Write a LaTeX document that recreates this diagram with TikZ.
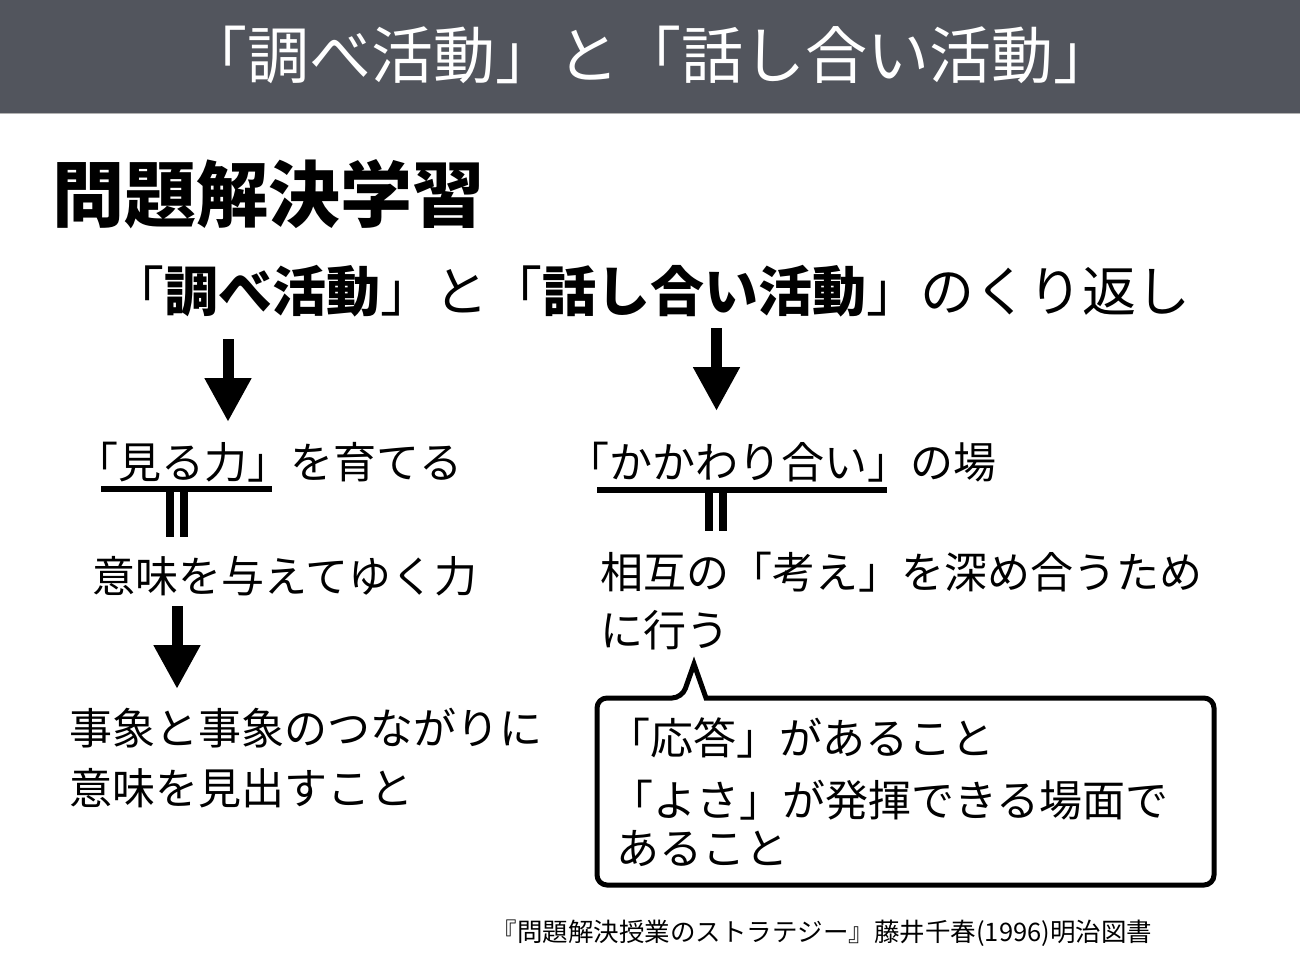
\documentclass[tikz,border=0pt]{standalone}
\usepackage{fontspec}
\newfontfamily\jp{Noto Sans CJK JP}
\usetikzlibrary{arrows.meta}
\definecolor{barcol}{HTML}{52555D}
\tikzset{
  body/.style={inner sep=0pt, anchor=west, font=\jp\fontsize{43}{50}\selectfont, text height=38pt, text depth=5pt},
  bigarrow/.style={line width=11pt, -{Triangle[width=44pt,length=44pt]}},
  uline/.style={line width=6pt},
  eqbar/.style={line width=8pt},
}
\begin{document}
\begin{tikzpicture}[x=1pt,y=-1pt]
\useasboundingbox (0,0) rectangle (1300,973);
\fill[white] (0,0) rectangle (1300,973);
% title bar
\fill[barcol] (0,0) rectangle (1300,113);
\draw[gray!60, line width=1pt] (0,113.5) -- (1300,113.5);
\node[inner sep=0pt, text=white, font=\jp\fontsize{62}{72}\selectfont, text height=55pt, text depth=7pt] (title) at (650,55) {「調べ活動」と「話し合い活動」};
% heading
\node[inner sep=0pt, anchor=west, font=\jp\bfseries\fontsize{72}{80}\selectfont, text height=63pt, text depth=9pt] (head) at (52,195) {問題解決学習};
% main line
\node[inner sep=0pt, font=\jp\fontsize{54}{60}\selectfont, text height=47pt, text depth=7pt] (main) at (650,292) {「{\bfseries 調べ活動}」と「{\bfseries 話し合い活動}」のくり返し};
% left column
\node[body] (miru) at (75,462) {「見る力」を育てる};
\node[body] (imi) at (92,576) {意味を与えてゆく力};
\node[body] (jisho1) at (69,728) {事象と事象のつながりに};
\node[body] (jisho2) at (69,788) {意味を見出すこと};
% right column
\node[body] (kaka) at (566,462) {「かかわり合い」の場};
\node[body] (sogo1) at (600,572) {相互の「考え」を深め合うため};
\node[body] (sogo2) at (600,630) {に行う};
% arrows
\coordinate (a1s) at (228,339);
\coordinate (a1e) at (228,422);
\coordinate (a2s) at (716.5,328);
\coordinate (a2e) at (716.5,411);
\coordinate (a3s) at (177,606);
\coordinate (a3e) at (177,689);
\draw[bigarrow] (a1s) -- (a1e);
\draw[bigarrow] (a2s) -- (a2e);
\draw[bigarrow] (a3s) -- (a3e);
% underline and equals bars
\coordinate (ul1a) at (101,488.5);
\coordinate (ul1b) at (272,488.5);
\draw[uline] (ul1a) -- (ul1b);
\draw[eqbar] (169.5,491) -- (169.5,537);
\draw[eqbar] (183.5,491) -- (183.5,537);
\coordinate (ul2a) at (597,490);
\coordinate (ul2b) at (887,490);
\draw[uline] (ul2a) -- (ul2b);
\draw[eqbar] (709,492) -- (709,531);
\draw[eqbar] (723,492) -- (723,531);
% callout
\draw[line width=5pt, line join=miter, fill=white]
  (597,790) [rounded corners=10pt] -- (597,698) -- (682,698) [sharp corners] -- (694,664) -- (706,698)
  [rounded corners=10pt] -- (1214,698) -- (1214,885) -- (597,885) -- cycle;
\node[body] (c1) at (607,738) {「応答」があること};
\node[body] (c2) at (610,800) {「よさ」が発揮できる場面で};
\node[body] (c3) at (616,848) {あること};
% citation
\node[inner sep=0pt, font=\jp\fontsize{25.5}{30}\selectfont] (cite) at (822,933) {『問題解決授業のストラテジー』藤井千春(1996)明治図書};
\end{tikzpicture}
\end{document}
